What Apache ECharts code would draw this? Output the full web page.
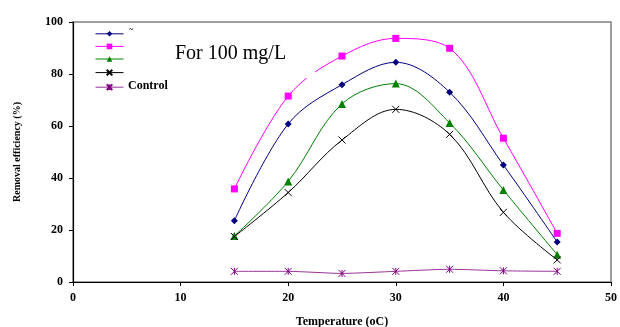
<!DOCTYPE html>
<html>
<head>
<meta charset="utf-8">
<script src="https://cdn.jsdelivr.net/npm/echarts@6/dist/echarts.min.js"></script>
<style>
  html, body { margin: 0; padding: 0; background: #fff; }
  #chart { width: 620px; height: 327px; }
</style>
</head>
<body>
<div id="chart"></div>
<script>
// Temperature (°C) at which removal was measured
const temperatures = [15, 20, 25, 30, 35, 40, 45];

// Removal efficiency (%) per series
const seriesBlue    = [23.6, 60.8, 75.9, 84.5, 73.0, 45.0, 15.4];
const seriesMagenta = [35.8, 71.5, 86.9, 93.7, 89.9, 55.3, 18.7];
const seriesGreen   = [17.7, 38.7, 68.5, 76.3, 61.2, 35.4, 10.5];
const seriesBlack   = [17.5, 34.4, 54.6, 66.4, 56.8, 26.8, 8.5];
const seriesControl = [4.1, 4.1, 3.3, 4.1, 4.9, 4.3, 4.1];

// Axis ticks
const xTicks = [0, 10, 20, 30, 40, 50];
const yTicks = [0, 20, 40, 60, 80, 100];

const serif = '"Liberation Serif", "Times New Roman", serif';

function pairs(vals) {
  return temperatures.map((t, i) => [t, vals[i]]);
}

const crossPath = 'path://M0,0L10,10M10,0L0,10';
const starPath = 'path://M0,0L10,10M10,0L0,10M5,0L5,10';

function line(name, vals, color, symbol, size, extra) {
  return Object.assign({
    name: name,
    type: 'line',
    data: pairs(vals),
    smooth: 0.35,
    symbol: symbol,
    symbolSize: size,
    lineStyle: { color: color, width: 1 },
    itemStyle: { color: color },
    z: 2
  }, extra || {});
}

const chart = echarts.init(document.getElementById('chart'), null, { renderer: 'canvas' });

chart.setOption({
  animation: false,
  backgroundColor: '#ffffff',
  grid: {
    left: 73, right: 9, top: 22, bottom: 45,
    outerBoundsMode: 'none', containLabel: false,
    show: true, borderColor: '#808080', borderWidth: 1.5, backgroundColor: 'transparent'
  },
  legend: {
    left: 95, top: 31, orient: 'vertical', padding: 0,
    itemWidth: 28, itemHeight: 7, itemGap: 7,
    data: ['A', 'B', 'C', 'D', 'Control'],
    formatter: () => '',
    lineStyle: { width: 1 },
    textStyle: { fontSize: 1, lineHeight: 1 },
    z: 6
  },
  xAxis: {
    type: 'value', min: 0, max: 50, interval: 10,
    name: 'Temperature (oC)', nameLocation: 'middle', nameGap: 34,
    nameTextStyle: { fontFamily: serif, fontWeight: 'bold', fontSize: 12, color: '#000' },
    axisLine: { show: true, lineStyle: { color: '#000', width: 1.2 } },
    axisTick: { show: true, inside: false, length: 4, lineStyle: { color: '#000' } },
    axisLabel: {
      fontFamily: serif, fontWeight: 'bold', fontSize: 12, color: '#000', margin: 10,
      formatter: v => xTicks.includes(v) ? String(v) : ''
    },
    splitLine: { show: false }
  },
  yAxis: {
    type: 'value', min: 0, max: 100, interval: 20,
    name: 'Removal efficiency (%)', nameLocation: 'middle', nameGap: 51,
    nameTextStyle: { fontFamily: serif, fontWeight: 'bold', fontSize: 10, color: '#000' },
    axisLine: { show: true, lineStyle: { color: '#000', width: 1.2 } },
    axisTick: { show: true, inside: false, length: 4, lineStyle: { color: '#000' } },
    axisLabel: {
      fontFamily: serif, fontWeight: 'bold', fontSize: 12, color: '#000', margin: 10,
      formatter: v => yTicks.includes(v) ? String(v) : ''
    },
    splitLine: { show: false }
  },
  graphic: [
    {
      type: 'rect', left: 160, top: 36, z: 5,
      shape: { width: 155, height: 42 },
      style: { fill: '#ffffff' }
    },
    {
      type: 'text', left: 175, top: 44, z: 6,
      style: { text: 'For 100 mg/L', font: '20px ' + serif, fill: '#000' }
    },
    {
      type: 'text', left: 129, top: 26, z: 6,
      style: { text: '~', font: 'bold 8px ' + serif, fill: '#000' }
    },
    {
      type: 'text', left: 128, top: 80, z: 6,
      style: { text: 'Control', font: 'bold 12px ' + serif, fill: '#000' }
    }
  ],
  series: [
    line('A', seriesBlue, '#000080', 'diamond', 7),
    line('B', seriesMagenta, '#ff00ff', 'rect', 7),
    line('C', seriesGreen, '#008000', 'triangle', 8),
    line('D', seriesBlack, '#000000', crossPath, 7,
      { itemStyle: { color: '#000', borderColor: '#000', borderWidth: 1 } }),
    line('Control', seriesControl, '#993399', starPath, 7,
      { smooth: 0.2, itemStyle: { color: '#800080', borderColor: '#800080', borderWidth: 1 } })
  ]
});
</script>
</body>
</html>
